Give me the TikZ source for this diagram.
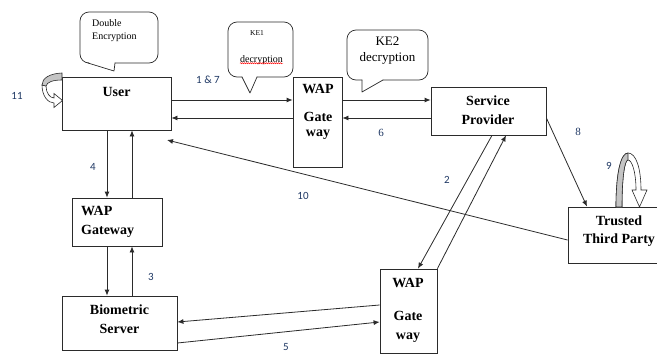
\documentclass[tikz,border=0pt]{standalone}
\usepackage{fontspec}
\setmainfont{Liberation Serif}
\newfontfamily\numfont{Carlito}
\usetikzlibrary{arrows.meta,decorations.pathmorphing}
\definecolor{numblue}{HTML}{1F3864}
\definecolor{linegray}{HTML}{2B2B2B}
\definecolor{bandgray}{HTML}{C4C4C4}

\begin{document}
\begin{tikzpicture}[x=1pt,y=-1pt,
  box/.style={draw=linegray, line width=0.8pt, inner sep=0pt, fill=white},
  title/.style={font=\bfseries\fontsize{14}{19}\selectfont, inner sep=0pt, align=center},
  arr/.style={draw=linegray, line width=0.8pt, -{Latex[length=6pt,width=5pt]}},
  plain/.style={draw=linegray, line width=0.8pt},
  num/.style={font=\numfont\fontsize{11}{13}\selectfont, text=numblue, inner sep=0pt},
  snum/.style={font=\fontsize{11}{13}\selectfont, text=numblue, inner sep=0pt},
  callout/.style={draw=linegray, line width=0.7pt, line cap=round, line join=round},
  note/.style={inner sep=0pt}
]
\clip (0,0) rectangle (657,354);
\fill[white] (0,0) rectangle (657,354);

% ---------- boxes ----------
\node[box, minimum width=109pt, minimum height=53pt] (user)   at (116.5,103.5) {};
\node[box, minimum width=49pt,  minimum height=90pt] (wapmid) at (317.5,122) {};
\node[box, minimum width=115pt, minimum height=48pt] (sp)     at (488.5,111) {};
\node[box, minimum width=102pt, minimum height=56pt] (ttp)    at (619,235) {};
\node[box, minimum width=90pt,  minimum height=48pt] (wapgw)  at (117,222) {};
\node[box, minimum width=115pt, minimum height=54pt] (bs)     at (119.5,323) {};
\node[box, minimum width=57pt,  minimum height=84pt] (waplow) at (408.5,311) {};

% ---------- box titles ----------
\node[title] (userT)    at (116.5,92) {User};
\node[title] (wapmidA)  at (318,89) {WAP};
\node[title, font=\bfseries\fontsize{14}{15}\selectfont] (wapmidB) at (318,125.5) {Gate\\way};
\node[title] (spT)      at (488,110.5) {Service\\Provider};
\node[title, font=\bfseries\fontsize{14}{18}\selectfont] (ttpT) at (619,231) {Trusted\\Third Party};
\node[title, align=left, anchor=west] (wapgwT) at (81,221.5) {WAP\\Gateway};
\node[title] (bsT)      at (119.5,319.5) {Biometric\\Server};
\node[title] (waplowA)  at (408,283) {WAP};
\node[title, font=\bfseries\fontsize{14}{19}\selectfont] (waplowB) at (408,326.5) {Gate\\way};

% ---------- callouts ----------
\draw[callout, rounded corners=9pt] (115,63) -- (158,63) -- (158,12) -- (80,12) -- (80,63) -- (88,63);
\draw[callout] (88,63) -- (114,71) -- (115,63);
\node[note, align=left, anchor=west, font=\fontsize{10}{13}\selectfont] (dblenc) at (92,30.5) {Double\\Encryption};

\draw[callout, rounded corners=9pt] (257,77) -- (293,77) -- (293,22) -- (228,22) -- (228,77) -- (242,77);
\draw[callout] (242,77) -- (250,93) -- (257,77);
\node[note, font=\fontsize{7.5}{9}\selectfont] (ke1a) at (257,33) {KE1};
\node[note, font=\fontsize{10}{12}\selectfont] (ke1b) at (261.5,60) {decryption};
\draw[red, line width=0.4pt, decorate, decoration={snake, amplitude=0.6pt, segment length=2pt}]
  ([yshift=1.5pt]ke1b.south west) -- ([yshift=1.5pt]ke1b.south east);

\draw[callout, rounded corners=9pt] (383,80) -- (428,80) -- (428,30) -- (347,30) -- (347,80) -- (362,80);
\draw[callout] (362,80) -- (362,92) -- (383,80);
\node[note, align=center, font=\fontsize{13}{16}\selectfont] (ke2) at (387.5,51) {KE2\\decryption};

% ---------- connectors ----------
\draw[arr] (user.east |- 0,100) -- (wapmid.west |- 0,100);
\draw[arr] (wapmid.west |- 0,118) -- (user.east |- 0,118);
\draw[arr] (wapmid.east |- 0,100) -- (sp.west |- 0,100);
\draw[arr] (sp.west |- 0,118) -- (wapmid.east |- 0,118);

\draw[arr] (user.south -| 107,0) -- (wapgw.north -| 107,0);
\draw[arr] (wapgw.north -| 132,0) -- (user.south -| 132,0);
\draw[arr] (wapgw.south -| 107,0) -- (bs.north -| 107,0);
\draw[arr] (bs.north -| 132,0) -- (wapgw.south -| 132,0);

\draw[arr] (waplow.west |- 0,305) -- (bs.east |- 0,322);
\draw[arr] (bs.east |- 0,343) -- (waplow.west |- 0,322);

\draw[arr] (sp.south -| 492,0) -- (waplow.north -| 418,0);
\draw[arr] (waplow.north east) -- (sp.south -| 506,0);

\draw[arr] (sp.east |- 0,118) -- (ttp.north -| 587,0);

\coordinate (u10) at (167,140);
\draw[arr] (ttp.west |- 0,240) -- (u10);

% ---------- self loops ----------
% loop on the user box
\draw[plain, fill=white, line width=0.6pt]
  (42,85) .. controls (42,96) and (48,103) .. (54,103) -- (54,107.5) -- (62.5,100.5) -- (54,93.5) -- (54,98)
  .. controls (50,98) and (46,93) .. (46,86) -- cycle;
\draw[plain, fill=bandgray, line width=0.6pt]
  (62,73) .. controls (50,73.5) and (42,78) .. (42,85) -- (46,86) .. controls (47,82) and (53,80) .. (62,80) -- cycle;

% loop on the trusted third party box
\draw[plain, fill=white, line width=0.6pt]
  (616,207) .. controls (616,172) and (621,153) .. (628,153) .. controls (636,153) and (641,168) .. (641,190)
  -- (647,190) -- (639.5,207) -- (632,190) -- (636,190)
  .. controls (636,172) and (632,160) .. (628,160) .. controls (625,160) and (622,175) .. (622,207) -- cycle;
\draw[plain, fill=bandgray, line width=0.6pt]
  (616,207) .. controls (616,172) and (621,153) .. (628,153) -- (628,160)
  .. controls (625,160) and (622,175) .. (622,207) -- cycle;

% ---------- step numbers ----------
\node[num] (n17) at (208,80) {1 \& 7};
\node[num] (n11) at (17,96) {11};
\node[num] (n4)  at (93,167) {4};
\node[num] (n3)  at (151,277) {3};
\node[num] (n5)  at (286,347.5) {5};
\node[num] (n10) at (303,196) {10};
\node[num] (n2)  at (447,180) {2};
\node[snum] (n6) at (381,133) {6};
\node[snum] (n8) at (578,132) {8};
\node[num] (n9)  at (609,166) {9};
\end{tikzpicture}
\end{document}
